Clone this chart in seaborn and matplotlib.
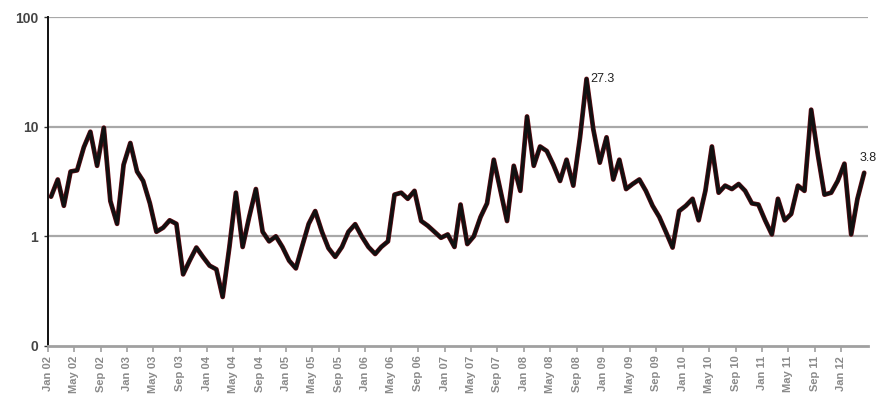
import matplotlib
matplotlib.use("Agg")
import matplotlib.pyplot as plt
import matplotlib.ticker as mticker
import seaborn as sns
import pandas as pd

# monthly values, Jan 02 .. Apr 12 (log scale)
values = [
    2.3, 3.3, 1.9, 3.9, 4.0, 6.5, 9.0, 4.4, 9.8, 2.1,   # 2002
    1.3, 4.5,
    7.1, 3.9, 3.2, 2.0, 1.1, 1.2, 1.4, 1.3, 0.45, 0.6,  # 2003
    0.79, 0.65,
    0.54, 0.5, 0.28, 0.8, 2.5, 0.8, 1.5, 2.7, 1.1, 0.9,  # 2004
    1.0, 0.8,
    0.6, 0.51, 0.8, 1.3, 1.7, 1.1, 0.78, 0.65, 0.8, 1.1,  # 2005
    1.29, 1.0,
    0.8, 0.69, 0.8, 0.9, 2.4, 2.5, 2.2, 2.6, 1.38, 1.25,  # 2006
    1.1, 0.97,
    1.04, 0.8, 1.95, 0.85, 1.0, 1.5, 2.0, 5.0, 2.6, 1.38,  # 2007
    4.4, 2.6,
    12.4, 4.4, 6.6, 6.0, 4.5, 3.2, 5.0, 2.9, 8.0, 27.3,  # 2008
    9.5, 4.7,
    8.0, 3.3, 5.0, 2.7, 3.0, 3.3, 2.6, 1.9, 1.5, 1.1,  # 2009
    0.79, 1.7,
    1.9, 2.2, 1.4, 2.6, 6.6, 2.5, 2.9, 2.7, 3.0, 2.6,  # 2010
    2.0, 1.95,
    1.4, 1.04, 2.2, 1.4, 1.6, 2.9, 2.6, 14.3, 5.5, 2.4,  # 2011
    2.5, 3.2,
    4.6, 1.04, 2.2, 3.8,  # 2012
]
months = pd.date_range("2002-01-01", periods=len(values), freq="MS") + pd.Timedelta(days=14)
tick_dates = pd.date_range("2002-01-01", "2012-01-01", freq="4MS")
tick_labels = list(tick_dates.strftime("%b %y"))
y_ticks = [0.1, 1, 10, 100]
y_labels = ["0", "1", "10", "100"]

df = pd.DataFrame({"month": months, "value": values})

sns.set_style("white")
plt.rcParams["font.family"] = ["Liberation Sans", "DejaVu Sans"]

fig = plt.figure(figsize=(8.79, 4.07), dpi=100)
ax = fig.add_axes([0.0546, 0.150, 0.933, 0.808])

sns.lineplot(data=df, x="month", y="value", ax=ax, color="#6e0f18", linewidth=3.4)
sns.lineplot(data=df, x="month", y="value", ax=ax, color="#111111", linewidth=2.5)

ax.set_yscale("log")
ax.set_ylim(0.1, 100)
ax.set_xlim(pd.Timestamp("2002-01-01"), pd.Timestamp("2012-05-03"))
ax.yaxis.set_major_locator(mticker.FixedLocator(y_ticks))
ax.yaxis.set_major_formatter(mticker.FixedFormatter(y_labels))
ax.yaxis.set_minor_locator(mticker.NullLocator())
ax.set_xticks(tick_dates)
ax.set_xticklabels(tick_labels, rotation=90, fontsize=8, fontweight="bold", color="#8a8a8a")
ax.xaxis.set_minor_locator(mticker.NullLocator())
for lab in ax.get_yticklabels():
    lab.set_fontweight("bold")
    lab.set_fontsize(10)
    lab.set_color("#444444")

# gridlines at 1, 10, 100
for yv in y_ticks[1:]:
    ax.axhline(yv, color="#a8a8a8", linewidth=1.6, zorder=0)

for side in ["top", "right"]:
    ax.spines[side].set_visible(False)
ax.spines["left"].set_color("#111111")
ax.spines["left"].set_linewidth(1.4)
ax.spines["bottom"].set_color("#a0a0a0")
ax.spines["bottom"].set_linewidth(2.0)
ax.tick_params(axis="x", length=4, width=1.2, color="#a0a0a0", pad=3, bottom=True)
ax.tick_params(axis="y", length=3, width=1.0, color="#333333", pad=4, left=True)
ax.set_xlabel("")
ax.set_ylabel("")

# value labels
peak_i = values.index(max(values))
ax.text(months[peak_i] + pd.Timedelta(days=18), values[peak_i], f"{values[peak_i]:.1f}",
        fontsize=9, color="#222222", va="center", ha="left")
ax.text(months[-1] - pd.Timedelta(days=20), values[-1] * 1.35, f"{values[-1]:.1f}",
        fontsize=9, color="#222222", va="center", ha="left", clip_on=False)

fig.savefig("out.png", dpi=100)
